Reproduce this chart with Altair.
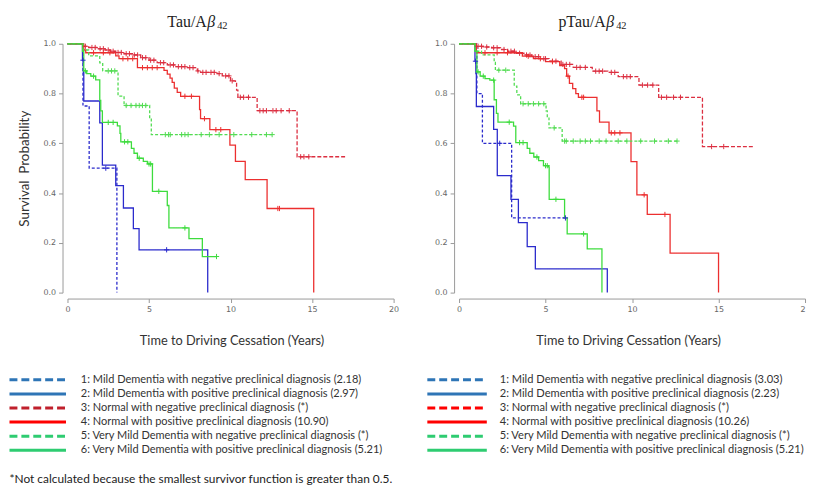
import altair as alt
import pandas as pd

GROUPS = ["1", "2", "3", "4", "5", "6"]
LINE_COLORS = ["#2b2bcc", "#2b2bcc", "#dc2f40", "#ec2f2f", "#52dc52", "#3ddc3d"]
LINE_DASHES = [[3, 2], [1, 0], [4, 2], [1, 0], [3, 2], [1, 0]]

# ---------------- Tau/Abeta42 panel ----------------
TAU_T1 = [0, 0.95, 1.33, 3.03]
TAU_S1 = [1.0, 0.75, 0.5, 0.0]
TAU_C1 = [2.35]
TAU_T2 = [0, 0.92, 0.97, 1.0, 1.98, 2.14, 2.96, 3.43, 4.04, 4.39, 8.6]
TAU_S2 = [1.0, 0.934, 0.885, 0.77, 0.682, 0.512, 0.43, 0.34, 0.257, 0.172, 0.0]
TAU_C2 = [0.95, 6.08]
TAU_T3 = [0, 1.0, 1.3, 1.84, 2.3, 2.65, 2.96, 3.47, 3.98, 4.49, 5.0, 5.5, 6.12, 6.63,
          7.35, 7.96, 8.16, 9.18, 9.49, 10.0, 10.3, 10.37, 10.45, 11.63, 14.08, 17.14]
TAU_S3 = [1.0, 0.99, 0.985, 0.98, 0.975, 0.97, 0.965, 0.96, 0.955, 0.944, 0.934, 0.924,
          0.915, 0.908, 0.904, 0.891, 0.885, 0.88, 0.871, 0.851, 0.845, 0.814, 0.785,
          0.731, 0.546, 0.546]
TAU_C3 = [1.1, 1.5, 1.7, 2.0, 2.2, 2.5, 2.8, 3.1, 3.3, 3.6, 3.8, 4.1, 4.3, 4.6, 4.8, 5.1,
          5.3, 5.7, 5.9, 6.3, 6.5, 6.8, 7.0, 7.2, 7.5, 7.7, 8.0, 8.3, 8.5, 8.8, 9.0, 9.3,
          9.7, 9.9, 10.1, 10.6, 10.8, 11.1, 11.8, 12.0, 12.2, 12.6, 12.8, 13.1, 13.6,
          14.3, 14.5, 14.8]
TAU_T4 = [0, 1.0, 1.12, 2.96, 3.16, 4.29, 5.92, 6.12, 6.29, 6.42, 6.55, 6.73, 6.94, 8.1,
          8.16, 8.73, 9.96, 10.3, 10.9, 12.24, 15.1]
TAU_S4 = [1.0, 0.975, 0.964, 0.951, 0.94, 0.904, 0.893, 0.878, 0.862, 0.845, 0.822,
          0.805, 0.789, 0.735, 0.699, 0.655, 0.593, 0.527, 0.454, 0.338, 0.0]
TAU_C4 = [1.6, 2.2, 2.6, 3.4, 3.7, 4.0, 4.6, 4.9, 5.2, 5.5, 7.2, 7.6, 8.4, 9.1, 9.4,
          12.9, 13.0]
TAU_T5 = [0, 0.95, 1.3, 1.98, 2.16, 3.1, 3.47, 5.04, 5.14, 12.65]
TAU_S5 = [1.0, 0.975, 0.951, 0.923, 0.891, 0.79, 0.752, 0.7, 0.635, 0.635]
TAU_C5 = [2.5, 2.7, 2.9, 3.6, 3.9, 4.2, 4.4, 4.6, 4.8, 6.0, 6.2, 6.3, 7.0, 7.2, 7.4,
          8.2, 8.7, 9.3, 10.2, 11.3, 12.2, 12.55]
TAU_T6 = [0, 0.92, 1.0, 1.18, 1.43, 1.73, 1.98, 2.04, 2.14, 3.06, 3.22, 3.27, 3.92,
          4.08, 4.29, 4.65, 4.9, 5.21, 6.12, 6.22, 7.45, 8.27, 9.14]
TAU_S6 = [1.0, 0.97, 0.891, 0.88, 0.87, 0.855, 0.772, 0.73, 0.684, 0.67, 0.64, 0.606,
          0.58, 0.56, 0.54, 0.527, 0.517, 0.407, 0.35, 0.26, 0.217, 0.145, 0.145]
TAU_C6 = [1.1, 1.6, 2.5, 2.8, 3.5, 3.7, 4.4, 5.0, 5.1, 5.6, 7.2, 9.14]

# ---------------- pTau/Abeta42 panel ----------------
PTAU_T1 = [0, 1.03, 1.35, 3.04, 6.15]
PTAU_S1 = [1.0, 0.8, 0.6, 0.3, 0.3]
PTAU_C1 = [2.35, 6.15]
PTAU_T2 = [0, 0.92, 0.97, 1.0, 2.0, 2.21, 3.0, 3.43, 3.94, 4.41, 8.57]
PTAU_S2 = [1.0, 0.93, 0.88, 0.748, 0.656, 0.47, 0.375, 0.281, 0.185, 0.095, 0.0]
PTAU_C2 = [0.95]
PTAU_T3 = [0, 0.94, 1.4, 1.88, 2.4, 2.81, 3.3, 3.75, 4.2, 4.69, 5.2, 5.9, 6.6, 7.7,
           8.6, 9.2, 10.4, 11.54, 14.07, 17.03]
PTAU_S3 = [1.0, 0.99, 0.987, 0.984, 0.977, 0.97, 0.962, 0.955, 0.948, 0.94, 0.93,
           0.917, 0.905, 0.89, 0.885, 0.868, 0.834, 0.785, 0.587, 0.587]
PTAU_C3 = [1.1, 1.3, 1.6, 2.0, 2.2, 2.6, 3.0, 3.2, 3.5, 3.9, 4.1, 4.4, 4.6, 4.9, 5.0,
           5.4, 5.6, 6.0, 6.2, 6.4, 6.8, 7.0, 7.3, 7.9, 8.1, 8.3, 8.8, 9.0, 9.5, 9.7,
           9.9, 10.6, 10.9, 11.2, 11.7, 12.0, 12.4, 12.8, 14.6, 15.3]
PTAU_T4 = [0, 1.0, 3.66, 4.3, 5.0, 5.82, 6.1, 6.22, 6.38, 6.57, 6.75, 6.9, 7.97, 8.12,
           8.67, 9.94, 10.28, 10.88, 12.2, 15.0]
PTAU_S4 = [1.0, 0.964, 0.95, 0.94, 0.928, 0.912, 0.9, 0.87, 0.841, 0.82, 0.8, 0.785,
           0.73, 0.685, 0.642, 0.526, 0.393, 0.314, 0.159, 0.0]
PTAU_C4 = [1.5, 2.2, 2.8, 4.0, 4.7, 5.4, 6.3, 7.1, 7.2, 8.8, 9.0, 9.3, 10.7, 11.9]
PTAU_T5 = [0, 0.92, 1.3, 2.03, 2.1, 3.19, 3.34, 3.56, 5.03, 5.1, 5.2, 5.96, 12.6]
PTAU_S5 = [1.0, 0.97, 0.955, 0.925, 0.894, 0.83, 0.795, 0.759, 0.73, 0.705, 0.662,
           0.609, 0.609]
PTAU_C5 = [2.3, 2.7, 3.7, 4.0, 4.3, 4.6, 4.9, 5.5, 6.1, 6.2, 6.6, 7.0, 7.3, 7.6, 8.1,
           8.5, 9.2, 9.7, 10.5, 11.3, 12.1, 12.6]
PTAU_T6 = [0, 0.92, 1.03, 1.22, 1.5, 1.78, 2.03, 2.16, 2.25, 3.15, 3.28, 3.94, 4.09,
           4.32, 4.6, 4.88, 5.16, 5.21, 6.1, 6.25, 7.41, 8.26]
PTAU_S6 = [1.0, 0.97, 0.887, 0.87, 0.86, 0.854, 0.775, 0.72, 0.685, 0.669, 0.603, 0.58,
           0.56, 0.545, 0.53, 0.51, 0.505, 0.375, 0.3, 0.236, 0.176, 0.0]
PTAU_C6 = [1.1, 1.4, 2.0, 2.9, 3.5, 3.7, 4.5, 5.0, 5.1, 5.6, 7.2]

# ---------------- legends ----------------
TAU_LEGEND = [
    "1:  Mild Dementia with negative preclinical diagnosis (2.18)",
    "2:  Mild Dementia with positive preclinical diagnosis (2.97)",
    "3:  Normal with negative preclinical diagnosis  (*)",
    "4:  Normal with positive preclinical diagnosis (10.90)",
    "5:  Very Mild Dementia with negative preclinical diagnosis (*)",
    "6:  Very Mild Dementia with positive preclinical diagnosis (5.21)",
]
PTAU_LEGEND = [
    "1:  Mild Dementia with negative preclinical diagnosis (3.03)",
    "2:  Mild Dementia with positive preclinical diagnosis (2.23)",
    "3:  Normal with negative preclinical diagnosis  (*)",
    "4:  Normal with positive preclinical diagnosis (10.26)",
    "5:  Very Mild Dementia with negative preclinical diagnosis (*)",
    "6:  Very Mild Dementia with positive preclinical diagnosis (5.21)",
]
TAU_LEG_COLORS = ["#2e75b6", "#2e75b6", "#c0202c", "#ff0000", "#2ecc71", "#2ecc71"]
PTAU_LEG_COLORS = ["#2e75b6", "#2e75b6", "#ff0000", "#ff0000", "#2ecc71", "#2ecc71"]
LEG_DASHED = [True, False, True, False, True, False]
FOOTNOTE = "*Not calculated because the smallest survivor function is greater than 0.5."
X_TICKS = [0, 5, 10, 15, 20]
Y_TICKS = [0.0, 0.2, 0.4, 0.6, 0.8, 1.0]

PLOT_H = 251
LEG_Y0 = 339
LEG_DY = 14.2


def curves_df(ts, ss):
    rows = []
    for g, t_list, s_list in zip(GROUPS, ts, ss):
        for t, s in zip(t_list, s_list):
            rows.append({"time": t, "surv": s, "group": g})
    return pd.DataFrame(rows)


def censor_df(ts, ss, cs):
    rows = []
    for g, t_list, s_list, c_list in zip(GROUPS, ts, ss, cs):
        for c in c_list:
            val = s_list[0]
            for t, s in zip(t_list, s_list):
                if t <= c:
                    val = s
            rows.append({"time": c, "surv": val, "group": g})
    return pd.DataFrame(rows)


def panel(ts, ss, cs, width, title_parts, title_x, legend, leg_colors, leg_x1, leg_x2,
          text_x, leg_font, ytitle, xtitle_x, right_panel, footnote):
    xaxis = alt.Axis(
        values=X_TICKS, title="Time to Driving Cessation (Years)", offset=6, tickSize=4,
        labelPadding=3, domainColor="#999999", tickColor="#999999", labelColor="#666666",
        labelFont="DejaVu Sans", labelFontSize=8, titleFont="Lato", titleFontSize=12.9,
        titleFontWeight="normal", titleColor="#333333", titlePadding=21, titleX=xtitle_x,
        grid=False, labelFlush=False,
        labelExpr=("datum.value == 20 ? '2' : datum.label") if right_panel else "datum.label",
        labelAlign=({"condition": {"test": "datum.value == 20", "value": "right"},
                     "value": "center"}) if right_panel else "center",
    )
    yaxis_kwargs = dict(
        values=Y_TICKS, format=".1f", offset=5, tickSize=4, labelPadding=3,
        domainColor="#999999", tickColor="#999999", labelColor="#666666",
        labelFont="DejaVu Sans", labelFontSize=8, grid=False, titleFont="Lato",
        titleFontSize=13.5, titleFontWeight="normal", titleColor="#333333",
        titlePadding=12,
    )
    yaxis = alt.Axis(title=ytitle, **yaxis_kwargs)
    xenc = alt.X("time:Q", scale=alt.Scale(domain=[0, 20], nice=False), axis=xaxis)
    yenc = alt.Y("surv:Q", scale=alt.Scale(domain=[0, 1], nice=False), axis=yaxis)
    color = alt.Color("group:N", scale=alt.Scale(domain=GROUPS, range=LINE_COLORS),
                      legend=None)

    lines = alt.Chart(curves_df(ts, ss)).mark_line(
        interpolate="step-after", strokeWidth=1.3
    ).encode(
        x=xenc, y=yenc, color=color,
        strokeDash=alt.StrokeDash("group:N",
                                  scale=alt.Scale(domain=GROUPS, range=LINE_DASHES),
                                  legend=None),
    )
    cens = alt.Chart(censor_df(ts, ss, cs)).mark_point(
        shape="M-1,0L1,0M0,-1L0,1", size=28, filled=False, strokeWidth=1, opacity=1
    ).encode(x=xenc, y=yenc, color=color)

    leg = pd.DataFrame({
        "label": legend,
        "color": leg_colors,
        "dashed": LEG_DASHED,
        "py": [LEG_Y0 + i * LEG_DY for i in range(len(legend))],
    })
    ypix = alt.Y("py:Q", scale=None, axis=None)
    rule_d = alt.Chart(leg[leg["dashed"]]).mark_rule(
        strokeWidth=3, strokeDash=[8, 4]
    ).encode(x=alt.value(leg_x1), x2=alt.value(leg_x2), y=ypix,
             color=alt.Color("color:N", scale=None, legend=None))
    rule_s = alt.Chart(leg[~leg["dashed"]]).mark_rule(strokeWidth=3).encode(
        x=alt.value(leg_x1), x2=alt.value(leg_x2), y=ypix,
        color=alt.Color("color:N", scale=None, legend=None))
    texts = alt.Chart(leg).mark_text(
        align="left", baseline="middle", font="Lato", fontSize=leg_font, color="#333333"
    ).encode(x=alt.value(text_x), y=ypix, text="label:N")

    main, beta, sub = title_parts
    t_main = alt.Chart(pd.DataFrame({"t": [main]})).mark_text(
        align="right", baseline="alphabetic", font="Liberation Serif", fontSize=16,
        color="#222222"
    ).encode(x=alt.value(title_x), y=alt.value(-17), text="t:N")
    t_beta = alt.Chart(pd.DataFrame({"t": [beta]})).mark_text(
        align="left", baseline="alphabetic", font="Liberation Serif", fontSize=16,
        fontStyle="italic", color="#222222"
    ).encode(x=alt.value(title_x + 0.5), y=alt.value(-17), text="t:N")
    t_sub = alt.Chart(pd.DataFrame({"t": [sub]})).mark_text(
        align="left", baseline="alphabetic", font="Liberation Serif", fontSize=10.5,
        color="#222222"
    ).encode(x=alt.value(title_x + 10.5), y=alt.value(-14.5), text="t:N")

    layers = [lines, cens, rule_d, rule_s, texts, t_main, t_beta, t_sub]
    if footnote:
        fn = alt.Chart(pd.DataFrame({"t": [footnote]})).mark_text(
            align="left", baseline="middle", font="Lato", fontSize=12, color="#222222"
        ).encode(x=alt.value(leg_x1), y=alt.value(439), text="t:N")
        layers.append(fn)
    return alt.layer(*layers).properties(width=width, height=PLOT_H)


left = panel(
    [TAU_T1, TAU_T2, TAU_T3, TAU_T4, TAU_T5, TAU_T6],
    [TAU_S1, TAU_S2, TAU_S3, TAU_S4, TAU_S5, TAU_S6],
    [TAU_C1, TAU_C2, TAU_C3, TAU_C4, TAU_C5, TAU_C6],
    329, ("Tau/A", "β", "42"), 140.5, TAU_LEGEND, TAU_LEG_COLORS, -58.5, -1.5, 13.5, 11.1,
    "Survival\u00a0\u00a0Probability", 165.5, False, FOOTNOTE,
)
right = panel(
    [PTAU_T1, PTAU_T2, PTAU_T3, PTAU_T4, PTAU_T5, PTAU_T6],
    [PTAU_S1, PTAU_S2, PTAU_S3, PTAU_S4, PTAU_S5, PTAU_S6],
    [PTAU_C1, PTAU_C2, PTAU_C3, PTAU_C4, PTAU_C5, PTAU_C6],
    349, ("pTau/A", "β", "42"), 148, PTAU_LEGEND, PTAU_LEG_COLORS, -32, 28, 41, 11.2,
    None, 170.5, True, None,
)

chart = alt.hconcat(left, right, spacing=26).properties(
    padding={"left": 0, "top": 4, "right": 0, "bottom": 0},
    background="white",
).configure_view(stroke=None)

chart.save("out.html", embed_options={"renderer": "svg", "actions": False})
